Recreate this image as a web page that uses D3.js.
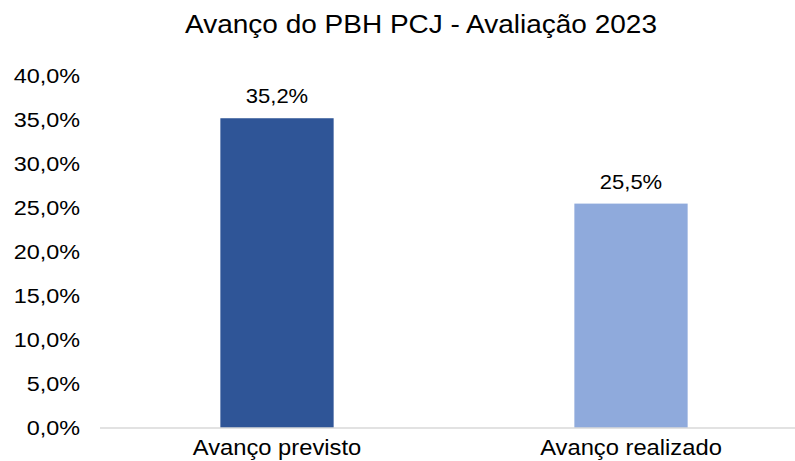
<!DOCTYPE html>
<html>
<head>
<meta charset="utf-8">
<script src="https://cdn.jsdelivr.net/npm/d3@7"></script>
<style>
  body { margin: 0; background: #fff; }
  svg { font-family: "Liberation Sans", Arial, sans-serif; }
</style>
</head>
<body>
<script>
const categories = ["Avanço previsto", "Avanço realizado"];
const values = [35.2, 25.5];
const barColors = ["#2F5597", "#8FAADC"];
const yTicks = [0, 5, 10, 15, 20, 25, 30, 35, 40];
const title = "Avanço do PBH PCJ - Avaliação 2023";

const width = 795, height = 461;
const fmt = v => d3.format(".1f")(v).replace(".", ",") + "%";

const svg = d3.select("body").append("svg")
    .attr("width", width).attr("height", height);

const x = d3.scaleBand().domain(categories).range([100, 808]).paddingInner(0.68).paddingOuter(0.34);
const y = d3.scaleLinear().domain([0, 40]).range([428, 76]);

// text in the reference is a bit wider than the font, so it gets a scaleX
svg.append("text")
    .attr("transform", `translate(421,33) scale(1.12,1)`)
    .attr("text-anchor", "middle")
    .attr("font-size", 25)
    .attr("fill", "#000")
    .text(title);

// y tick labels
svg.selectAll("text.ytick")
    .data(yTicks).enter()
    .append("text")
    .attr("class", "ytick")
    .attr("transform", d => `translate(80,${y(d)}) scale(1.2,1)`)
    .attr("dy", "0.35em")
    .attr("text-anchor", "end")
    .attr("font-size", 19.5)
    .attr("fill", "#000")
    .text(d => fmt(d));

// bars
svg.selectAll("rect")
    .data(values).enter()
    .append("rect")
    .attr("x", (d, i) => x(categories[i]))
    .attr("width", x.bandwidth())
    .attr("y", d => y(d))
    .attr("height", d => y(0) - y(d))
    .attr("fill", (d, i) => barColors[i]);

// baseline
svg.append("line")
    .attr("x1", 100).attr("x2", width)
    .attr("y1", y(0)).attr("y2", y(0))
    .attr("stroke", "#D9D9D9").attr("stroke-width", 1.5);

// value labels
svg.selectAll("text.val")
    .data(values).enter()
    .append("text")
    .attr("class", "val")
    .attr("transform", (d, i) => `translate(${x(categories[i]) + x.bandwidth() / 2},${y(d) - 15}) scale(1.1,1)`)
    .attr("text-anchor", "middle")
    .attr("font-size", 20)
    .attr("fill", "#000")
    .text(d => fmt(d));

// category labels
svg.selectAll("text.cat")
    .data(categories).enter()
    .append("text")
    .attr("class", "cat")
    .attr("transform", d => `translate(${x(d) + x.bandwidth() / 2},455) scale(1.08,1)`)
    .attr("text-anchor", "middle")
    .attr("font-size", 22)
    .attr("fill", "#000")
    .text(d => d);
</script>
</body>
</html>
